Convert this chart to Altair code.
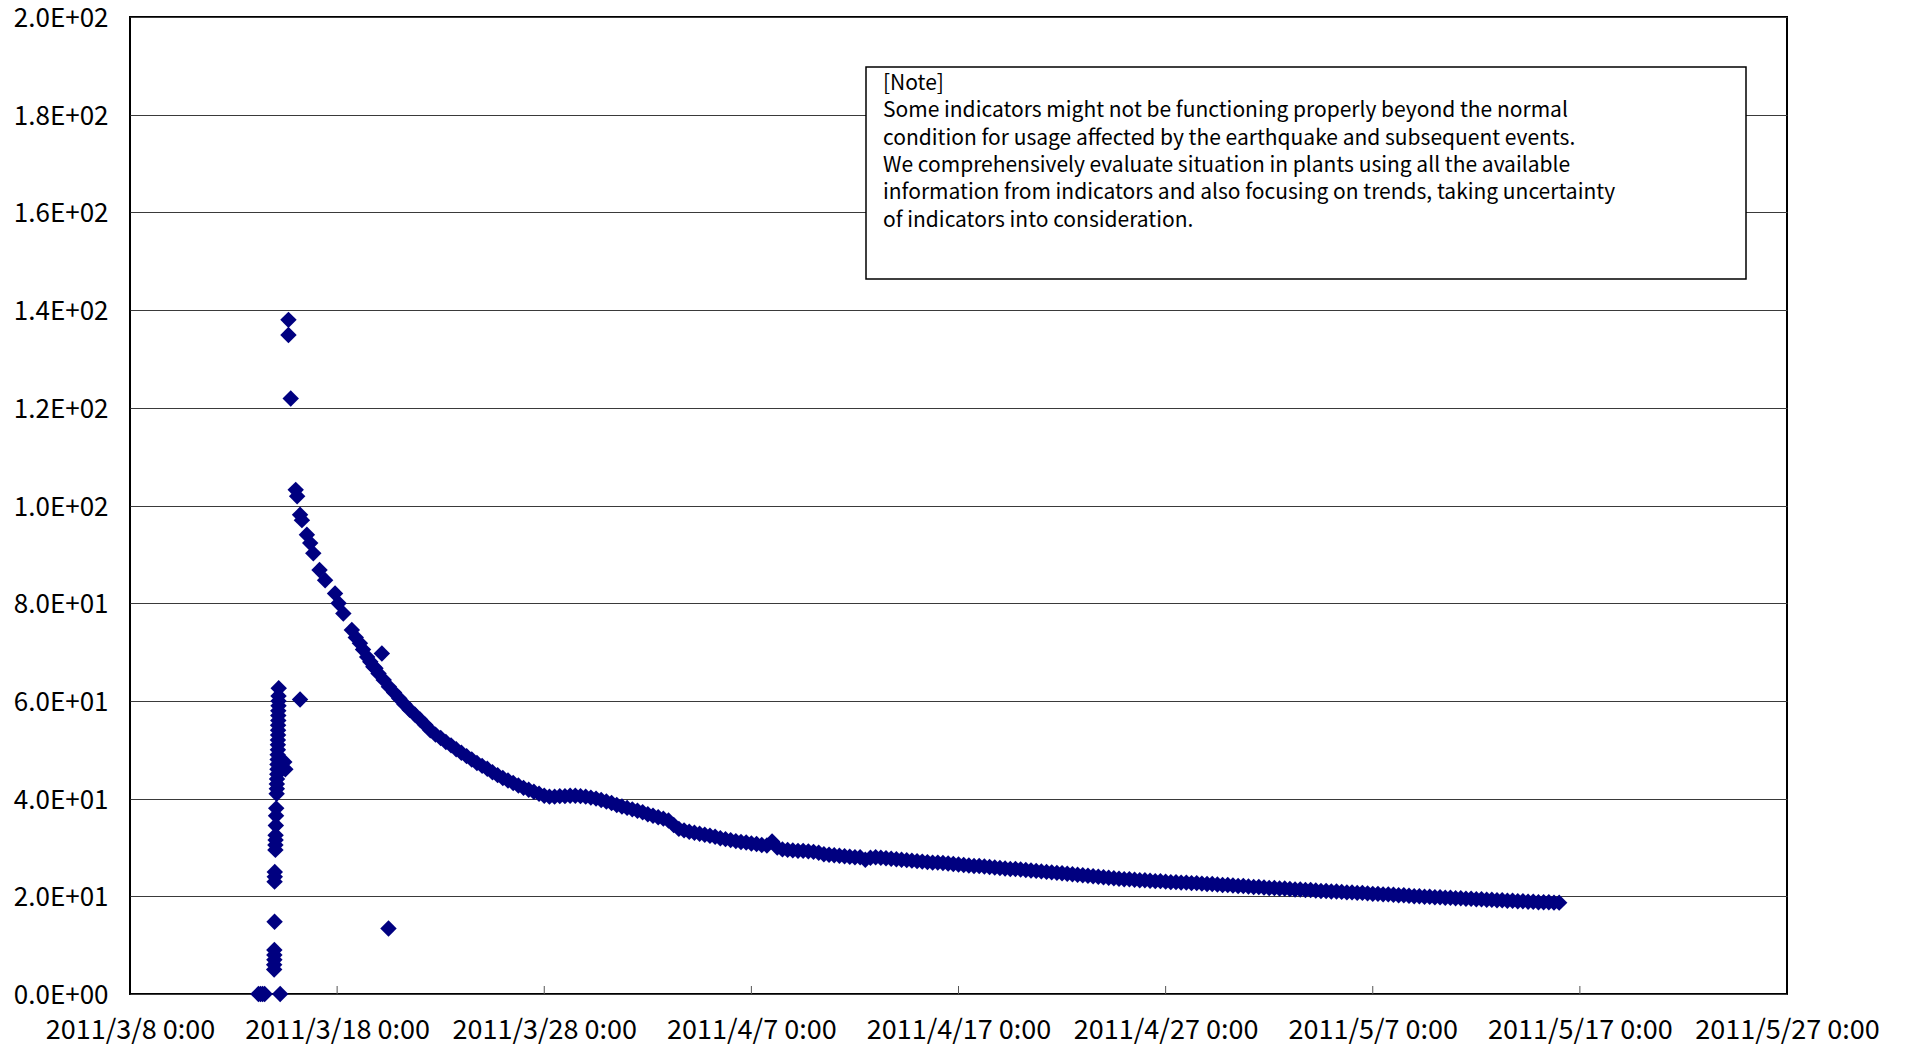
import altair as alt
import pandas as pd

# ---------------- data ----------------
BASE_TIME = "2011-03-08 00:00"

# irregular early readings: (days after 2011/3/8 0:00, value)
early_days = [
    6.20, 6.30, 6.40, 6.50, 7.25,
    6.96, 6.96, 6.97, 6.97, 6.97,
    6.98,
    6.98, 6.99, 6.99,
    7.02, 7.02, 7.03, 7.03,
    7.04, 7.05, 7.06,
    7.08, 7.09, 7.09,
    7.10, 7.11, 7.12, 7.12, 7.13, 7.13, 7.14, 7.14, 7.14, 7.15, 7.15, 7.15,
    7.16, 7.16, 7.16, 7.17, 7.17, 7.17, 7.18,
    7.45, 7.50,
    7.65, 7.65, 7.76,
    8.00, 8.07, 8.21, 8.30, 8.21,
    8.54, 8.70, 8.85, 9.15, 9.42, 9.90, 10.07, 10.30, 10.71, 10.90, 11.10,
    11.25, 11.45, 11.60, 11.75, 11.85,
    12.16, 12.48,
]
early_values = [
    0.0, 0.0, 0.0, 0.0, 0.0,
    5.0, 6.0, 7.0, 8.0, 9.0,
    14.8,
    23.0, 24.0, 25.0,
    29.5, 30.5, 31.5, 32.5,
    34.5, 36.5, 38.0,
    41.0, 42.0, 43.0,
    44.0, 45.0, 46.0, 47.0, 48.0, 49.0, 50.0, 51.0, 52.0, 53.0, 54.0, 55.0,
    56.0, 57.0, 58.0, 59.0, 60.0, 61.0, 62.6,
    47.5, 46.0,
    138.0, 134.9, 121.9,
    103.2, 101.9, 98.1, 97.0, 60.3,
    94.0, 92.3, 90.2, 86.8, 84.7, 82.0, 80.0, 77.9, 74.5, 73.0, 71.8,
    70.5, 69.0, 68.0, 67.0, 66.7,
    69.7, 13.4,
]

# regular 6-hourly readings from 2011/3/20 0:00
main_start = "2011-03-20 00:00"
main_values = [
    65.6, 64.3, 62.9, 61.7,
    60.5, 59.3, 58.2, 57.2,
    56.2, 55.1, 54.0, 53.1,
    52.4, 51.6, 50.9, 50.1,
    49.4, 48.7, 48.0, 47.3,
    46.7, 46.1, 45.4, 44.8,
    44.2, 43.7, 43.2, 42.7,
    42.2, 41.8, 41.4, 41.0,
    40.6, 40.4, 40.4, 40.5,
    40.5, 40.6, 40.6, 40.5,
    40.4, 40.2, 40.0, 39.7,
    39.4, 39.1, 38.7, 38.4,
    38.1, 37.8, 37.5, 37.2,
    36.8, 36.5, 36.2, 35.9,
    35.5, 34.6, 33.8, 33.5,
    33.2, 33.0, 32.8, 32.6,
    32.4, 32.2, 31.9, 31.7,
    31.5, 31.3, 31.1, 31.0,
    30.8, 30.7, 30.5, 30.4,
    31.2, 30.0, 29.6, 29.5,
    29.4, 29.3, 29.3, 29.2,
    29.1, 28.9, 28.6, 28.5,
    28.4, 28.3, 28.2, 28.1,
    28.0, 28.0, 27.5, 27.9,
    28.0, 27.9, 27.8, 27.7,
    27.6, 27.5, 27.4, 27.3,
    27.2, 27.1, 27.0, 26.9,
    26.9, 26.8, 26.7, 26.6,
    26.5, 26.4, 26.3, 26.2,
    26.2, 26.1, 26.0, 25.9,
    25.8, 25.7, 25.6, 25.6,
    25.5, 25.4, 25.3, 25.2,
    25.1, 25.0, 24.9, 24.8,
    24.7, 24.6, 24.5, 24.4,
    24.3, 24.2, 24.1, 24.0,
    23.9, 23.8, 23.7, 23.6,
    23.5, 23.5, 23.4, 23.3,
    23.3, 23.2, 23.1, 23.1,
    23.0, 22.9, 22.9, 22.8,
    22.8, 22.7, 22.7, 22.6,
    22.5, 22.5, 22.4, 22.3,
    22.3, 22.2, 22.1, 22.1,
    22.0, 21.9, 21.9, 21.8,
    21.7, 21.7, 21.6, 21.6,
    21.5, 21.4, 21.4, 21.3,
    21.3, 21.2, 21.1, 21.1,
    21.0, 21.0, 20.9, 20.8,
    20.8, 20.7, 20.7, 20.6,
    20.5, 20.5, 20.4, 20.4,
    20.3, 20.2, 20.2, 20.1,
    20.0, 20.0, 19.9, 19.9,
    19.8, 19.8, 19.7, 19.7,
    19.6, 19.6, 19.5, 19.5,
    19.4, 19.4, 19.3, 19.3,
    19.2, 19.2, 19.1, 19.1,
    19.0, 19.0, 18.9, 18.9,
    18.8, 18.8, 18.8, 18.7,
    18.7,
]

x_tick_dates = [
    (2011, 3, 8), (2011, 3, 18), (2011, 3, 28), (2011, 4, 7), (2011, 4, 17),
    (2011, 4, 27), (2011, 5, 7), (2011, 5, 17), (2011, 5, 27),
]
y_ticks = [0, 20, 40, 60, 80, 100, 120, 140, 160, 180, 200]

note_lines = [
    "[Note]",
    "Some indicators might not be functioning properly beyond the normal",
    "condition for usage affected by the earthquake and subsequent events.",
    "We comprehensively evaluate situation in plants using all the available",
    "information from indicators and also focusing on trends, taking uncertainty",
    "of indicators into consideration.",
]

# ---------------- tables ----------------
early_t = pd.Timestamp(BASE_TIME) + pd.to_timedelta(early_days, unit="D")
main_t = pd.date_range(start=main_start, periods=len(main_values), freq="6h")
df = pd.DataFrame({
    "t": list(early_t) + list(main_t),
    "v": early_values + main_values,
})
df["t"] = df["t"].dt.strftime("%Y-%m-%dT%H:%M:%S")

ticks_df = pd.DataFrame({
    "t": [pd.Timestamp(year=y, month=m, day=d).strftime("%Y-%m-%dT%H:%M:%S")
          for (y, m, d) in x_tick_dates[1:-1]]
})

W, H = 1657, 977
FONT = "Noto Sans CJK JP"

x_dt = [alt.DateTime(year=y, month=m, date=d) for (y, m, d) in x_tick_dates]

x_enc = alt.X(
    "t:T",
    scale=alt.Scale(domain=[x_dt[0], x_dt[-1]], nice=False),
    axis=alt.Axis(
        values=x_dt, format="%Y/%-m/%-d %-H:%M", title=None, grid=False,
        ticks=False, tickSize=0, domain=False, labelPadding=44,
        labelBaseline="alphabetic", labelLimit=400,
        labelFontSize=27, labelFont=FONT, labelColor="black",
        labelFlush=False, labelOverlap=False,
    ),
)
y_enc = alt.Y(
    "v:Q",
    scale=alt.Scale(domain=[0, 200], nice=False),
    axis=alt.Axis(
        values=y_ticks, title=None, grid=True, gridColor="#3a3a3a", gridWidth=1,
        gridOpacity=1, ticks=False, tickSize=0, domain=False, labelPadding=22,
        labelBaseline="alphabetic", labelOffset=9.5, labelLimit=300,
        labelFontSize=26, labelFont=FONT, labelColor="black",
        labelFlush=False, labelOverlap=False,
        labelExpr="datum.value == 0 ? '0.0E+00' : (datum.value >= 100 ? format(datum.value/100, '.1f') + 'E+02' : format(datum.value/10, '.1f') + 'E+01')",
    ),
)

points = alt.Chart(df).mark_point(
    shape="diamond", filled=True, size=270, color="#000080", opacity=1
).encode(x=x_enc, y=y_enc)

tick_marks = alt.Chart(ticks_df).mark_rule(color="#555555", strokeWidth=1).encode(
    x="t:T", y=alt.value(H - 8), y2=alt.value(H)
)

note_box = alt.Chart(pd.DataFrame({"a": [0]})).mark_rect(
    fill="white", stroke="black", strokeWidth=1.5
).encode(
    x=alt.value(736), x2=alt.value(1616), y=alt.value(50), y2=alt.value(262)
)

note_text = alt.Chart(pd.DataFrame({"a": [0]})).mark_text(
    align="left", baseline="alphabetic", font=FONT, fontSize=21,
    lineHeight=27.3, color="black"
).encode(
    x=alt.value(753), y=alt.value(73), text=alt.value(note_lines)
)

chart = alt.layer(points, tick_marks, note_box, note_text).properties(
    width=W, height=H,
    autosize=alt.AutoSizeParams(type="none"),
    padding={"left": 122, "top": 9, "right": 100, "bottom": 52},
).configure_view(
    stroke="black", strokeWidth=2
)

chart.save("out.html", embed_options={"renderer": "svg", "actions": False})
